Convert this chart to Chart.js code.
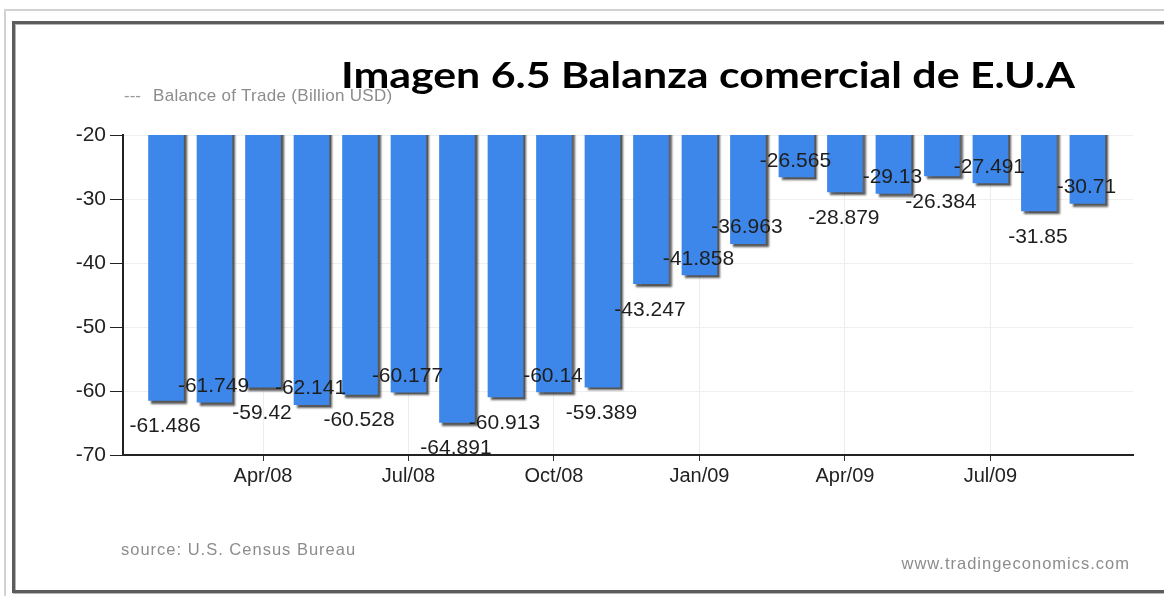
<!DOCTYPE html>
<html>
<head>
<meta charset="utf-8">
<script src="https://cdn.jsdelivr.net/npm/chart.js@4.4.1/dist/chart.umd.min.js"></script>
<style>
html,body{margin:0;padding:0;background:#fff;}
#wrap{position:relative;width:1164px;height:596px;overflow:hidden;font-family:"Liberation Sans",Arial,sans-serif;}
.abs{position:absolute;white-space:nowrap;}
#pageTop{left:4px;top:9px;width:1160px;height:0;border-top:2px solid #d2d2d2;}
#pageLeft{left:4px;top:9px;width:0;height:600px;border-left:2px solid #d2d2d2;}
#box{left:12px;top:21px;width:1170px;height:572px;border:3px solid #5c5c5c;box-sizing:border-box;box-shadow:inset 1px 1px 0 #b4b4b4, 1px 1px 0 #b4b4b4;}
#chart{position:absolute;left:0;top:0;}
#title{left:341px;top:56px;font-family:Lato,"Open Sans",sans-serif;font-weight:bold;font-size:36px;line-height:36px;color:#000;transform-origin:0 0;}
#legDash{left:124px;top:86px;font-size:17px;line-height:20px;color:#9a9a9a;}
#legText{left:153px;top:86px;font-size:17px;line-height:20px;color:#8c8c8c;letter-spacing:0.3px;}
#source{left:121px;top:539px;font-size:16.5px;line-height:20px;color:#8c8c8c;letter-spacing:1px;}
#site{right:34px;top:553px;font-size:16.5px;line-height:20px;color:#8c8c8c;letter-spacing:1px;}
</style>
</head>
<body>
<div id="wrap">
  <div class="abs" id="pageTop"></div>
  <div class="abs" id="pageLeft"></div>
  <div class="abs" id="box"></div>
  <canvas id="chart" width="1164" height="596"></canvas>
  <div class="abs" id="legDash">---</div>
  <div class="abs" id="legText">Balance of Trade (Billion USD)</div>
  <div class="abs" id="title">Imagen 6.5 Balanza comercial de E.U.A</div>
  <div class="abs" id="source">source: U.S. Census Bureau</div>
  <div class="abs" id="site">www.tradingeconomics.com</div>
</div>
<script>
// ---- data ----
const months = ['Feb/08','Mar/08','Apr/08','May/08','Jun/08','Jul/08','Aug/08','Sep/08','Oct/08','Nov/08','Dec/08',
                'Jan/09','Feb/09','Mar/09','Apr/09','May/09','Jun/09','Jul/09','Aug/09','Sep/09'];
const balance = [-61.486,-61.749,-59.42,-62.141,-60.528,-60.177,-64.891,-60.913,-60.14,-59.389,-43.247,
                 -41.858,-36.963,-26.565,-28.879,-29.13,-26.384,-27.491,-31.85,-30.71];
const xTickLabels = ['Apr/08','Jul/08','Oct/08','Jan/09','Apr/09','Jul/09'];
const yTickValues = [-20,-30,-40,-50,-60,-70];
const seriesName = 'Balance of Trade (Billion USD)';

// label placement (style): 'b' = below bar end, 'a' = just above bar end
const labelSide = ['b','a','b','a','b','a','b','b','a','b','b','a','a','a','b','a','b','a','b','a'];

// title width fit
(function(){
  const t = document.getElementById('title');
  const w = t.getBoundingClientRect().width;
  t.style.transform = 'scaleX(' + (734 / w) + ')';
})();

const FAM = '"Liberation Sans", Arial, sans-serif';
Chart.defaults.font.family = FAM;

const shadowPlugin = {
  id: 'barShadow',
  beforeDatasetsDraw(chart) {
    const c = chart.ctx;
    c.save();
    c.shadowColor = 'rgba(45,45,45,0.8)';
    c.shadowOffsetX = 3;
    c.shadowOffsetY = 3;
    c.shadowBlur = 2;
  },
  afterDatasetsDraw(chart) { chart.ctx.restore(); }
};

const labelPlugin = {
  id: 'barLabels',
  afterDatasetsDraw(chart) {
    const meta = chart.getDatasetMeta(0);
    const c = chart.ctx;
    c.save();
    c.font = '21px ' + FAM;
    c.fillStyle = '#1e1e1e';
    c.textAlign = 'center';
    c.textBaseline = 'middle';
    meta.data.forEach((bar, i) => {
      const y = labelSide[i] === 'b' ? bar.y + 26 : bar.y - 16;
      c.fillText(String(balance[i]), bar.x - 1, y);
    });
    c.restore();
  }
};

new Chart(document.getElementById('chart'), {
  type: 'bar',
  data: {
    datasets: [{
      label: seriesName,
      data: balance.map((v, i) => ({ x: i, y: v })),
      backgroundColor: 'rgb(61,135,234)',
      borderWidth: 0,
      barThickness: 35
    }]
  },
  options: {
    responsive: false,
    animation: false,
    layout: { padding: { left: 0, top: 135, right: 31, bottom: 0 } },
    plugins: { legend: { display: false }, tooltip: { enabled: false }, title: { display: false } },
    scales: {
      x: {
        type: 'linear',
        min: -0.887,
        max: 19.94,
        offset: false,
        afterFit(s) { s.height = 141; },
        afterBuildTicks(s) { s.ticks = xTickLabels.map(l => ({ value: months.indexOf(l) })); },
        ticks: {
          callback: (v) => months[v],
          font: { size: 20, family: FAM },
          color: '#222',
          padding: 3,
          maxRotation: 0,
          autoSkip: false
        },
        grid: { offset: false, color: '#ececec', tickColor: '#333', tickLength: 6, lineWidth: 1 },
        border: { color: '#222', width: 2, z: 1 }
      },
      y: {
        min: -70,
        max: -20,
        beginAtZero: false,
        afterFit(s) { s.width = 123; },
        afterBuildTicks(s) { s.ticks = yTickValues.map(v => ({ value: v })); },
        ticks: { font: { size: 21, family: FAM }, color: '#222', padding: 4 },
        grid: { color: '#efefef', tickColor: '#222', tickLength: 13, lineWidth: 1 },
        border: { color: '#222', width: 2, z: 1 }
      }
    }
  },
  plugins: [shadowPlugin, labelPlugin]
});
</script>
</body>
</html>
